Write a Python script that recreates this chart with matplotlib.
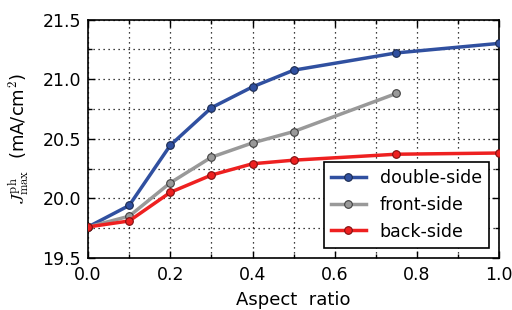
import numpy as np
import matplotlib.pyplot as plt
from matplotlib.ticker import MultipleLocator

plt.rcParams['mathtext.fontset'] = 'cm'
plt.rcParams['font.family'] = 'DejaVu Sans'

# data
x_all = [0.0, 0.1, 0.2, 0.3, 0.4, 0.5, 0.75, 1.0]
double_side = [19.76, 19.94, 20.445, 20.76, 20.935, 21.075, 21.22, 21.30]
x_front = [0.0, 0.1, 0.2, 0.3, 0.4, 0.5, 0.75]
front_side = [19.76, 19.85, 20.13, 20.345, 20.465, 20.56, 20.88]
back_side = [19.76, 19.81, 20.05, 20.195, 20.29, 20.32, 20.37, 20.38]

fig = plt.figure(figsize=(5.12, 3.10), dpi=100)
ax = fig.add_axes([0.172, 0.168, 0.803, 0.769])

ax.plot(x_all, double_side, '-o', color='#3050a0', lw=2.5, ms=5.5,
        mec='#1a2a50', mew=0.8, label='double-side', zorder=3)
ax.plot(x_front, front_side, '-o', color='#999999', lw=2.5, ms=5.5,
        mec='#404040', mew=0.8, label='front-side', zorder=3)
ax.plot(x_all, back_side, '-o', color='#ee2020', lw=2.5, ms=5.5,
        mec='#801010', mew=0.8, label='back-side', zorder=3)

ax.set_xlim(0, 1)
ax.set_ylim(19.5, 21.5)
ax.xaxis.set_major_locator(MultipleLocator(0.2))
ax.xaxis.set_minor_locator(MultipleLocator(0.1))
ax.yaxis.set_major_locator(MultipleLocator(0.5))
ax.yaxis.set_minor_locator(MultipleLocator(0.25))
ax.xaxis.set_major_formatter(plt.FormatStrFormatter('%.1f'))
ax.yaxis.set_major_formatter(plt.FormatStrFormatter('%.1f'))
ax.tick_params(which='both', direction='in', top=True, right=True, labelsize=12.5)
ax.tick_params(which='major', length=5, width=1)
ax.tick_params(which='minor', length=3, width=1)
ax.tick_params(axis='x', pad=6)
ax.tick_params(axis='y', pad=5)
ax.grid(which='both', ls=(0, (1, 3)), color='k', lw=0.9)
for s in ax.spines.values():
    s.set_linewidth(1.2)

ax.set_xlabel('Aspect  ratio', fontsize=13, labelpad=5)
ax.set_ylabel(r'$J^{\rm ph}_{\rm max}$  (mA/cm$^{\mathsf{2}}$)', fontsize=13, labelpad=8)

leg = ax.legend(loc='lower right', fontsize=12.5, fancybox=False,
                framealpha=1, edgecolor='k', borderaxespad=0.6)
leg.get_frame().set_linewidth(1.2)

fig.savefig('out.png', dpi=100)
